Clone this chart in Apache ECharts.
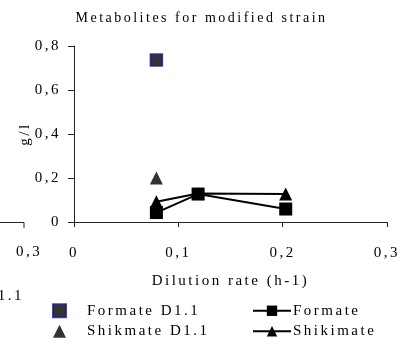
<!DOCTYPE html>
<html><head><meta charset="utf-8">
<script src="https://cdn.jsdelivr.net/npm/echarts@6/dist/echarts.min.js"></script>
<style>
html,body{margin:0;padding:0;background:#fff}
#chart{width:403px;height:354px}
</style></head><body><div id="chart"></div>
<script>
// Loosely tracked type, applied to every text drawn or measured on a canvas
(function () {
  const proto = CanvasRenderingContext2D.prototype;
  if (!('letterSpacing' in proto)) return;
  const TRACK = '2.5px';
  const fill = proto.fillText, measure = proto.measureText, stroke = proto.strokeText;
  proto.fillText = function () { this.letterSpacing = TRACK; return fill.apply(this, arguments); };
  proto.strokeText = function () { this.letterSpacing = TRACK; return stroke.apply(this, arguments); };
  proto.measureText = function () { this.letterSpacing = TRACK; return measure.apply(this, arguments); };
})();

// Axis ranges
const xMin = 0, xMax = 0.3, xStep = 0.1;
const yMin = 0, yMax = 0.8, yStep = 0.2;

// Dilution rates (h-1) of the continuous cultures
const dilution = [0.079, 0.119, 0.203];
// Metabolite concentrations (g/l)
const formate = [0.043, 0.127, 0.059];
const shikimate = [0.092, 0.130, 0.127];
// Single D1.1 measurements
const d11Rate = [0.079];
const formateD11 = [0.736];
const shikmateD11 = [0.200];

const pairs = (xs, ys) => xs.map((x, i) => [x, ys[i]]);
const comma = v => String(+v.toFixed(2)).replace('.', ',');
const FONT = 'Liberation Serif';
const INK = '#000';

const chart = echarts.init(document.getElementById('chart'));
chart.setOption({
  animation: false,
  backgroundColor: '#fff',
  textStyle: { fontFamily: FONT, color: INK },
  title: {
    text: 'Metabolites for modified strain',
    left: 'center', top: 5,
    textStyle: { fontFamily: FONT, fontSize: 14, fontWeight: 'normal', color: INK }
  },
  grid: { left: 74, right: 13, top: 46, bottom: 132 },
  xAxis: {
    type: 'value', min: xMin, max: xMax, interval: xStep,
    name: 'Dilution rate (h-1)', nameLocation: 'middle', nameGap: 50, nameMoveOverlap: false,
    nameTextStyle: { fontFamily: FONT, fontSize: 15, color: INK },
    axisLine: { lineStyle: { color: '#222', width: 1 } },
    axisTick: { show: true, length: 5, lineStyle: { color: '#222' } },
    axisLabel: { formatter: comma, margin: 22, fontFamily: FONT, fontSize: 15, color: INK },
    splitLine: { show: false }
  },
  yAxis: {
    type: 'value', min: yMin, max: yMax, interval: yStep,
    name: 'g/l', nameLocation: 'middle', nameGap: 40, nameRotate: 90, nameMoveOverlap: false,
    nameTextStyle: { fontFamily: FONT, fontSize: 15, color: INK },
    axisLine: { show: true, lineStyle: { color: '#222', width: 1 } },
    axisTick: { show: true, length: 6, lineStyle: { color: '#222' } },
    axisLabel: { formatter: comma, margin: 13, fontFamily: FONT, fontSize: 15, color: INK },
    splitLine: { show: false }
  },
  legend: [
    {
      orient: 'vertical', left: 47, top: 297, itemGap: 3,
      itemWidth: 13, itemHeight: 13,
      textStyle: { fontFamily: FONT, fontSize: 15, color: INK, padding: [0, 0, 0, 16] },
      data: ['Formate D1.1', 'Shikmate D1.1']
    },
    {
      orient: 'vertical', left: 247, top: 297, itemGap: 3,
      itemWidth: 38, itemHeight: 13,
      textStyle: { fontFamily: FONT, fontSize: 15, color: INK, padding: [0, 0, 0, -3] },
      data: ['Formate', 'Shikimate']
    }
  ],
  series: [
    {
      name: 'Formate', type: 'line', data: pairs(dilution, formate),
      symbol: 'rect', symbolSize: 13,
      lineStyle: { color: INK, width: 2 }, itemStyle: { color: INK }, z: 3
    },
    {
      name: 'Shikimate', type: 'line', data: pairs(dilution, shikimate),
      symbol: 'triangle', symbolSize: 13,
      lineStyle: { color: INK, width: 2 }, itemStyle: { color: INK }, z: 3
    },
    {
      name: 'Formate D1.1', type: 'scatter', data: pairs(d11Rate, formateD11),
      symbol: 'rect', symbolSize: 12,
      itemStyle: { color: INK, borderColor: '#1a1a8c', borderWidth: 1.5 }, z: 4
    },
    {
      name: 'Shikmate D1.1', type: 'scatter', data: pairs(d11Rate, shikmateD11),
      symbol: 'triangle', symbolSize: 13,
      itemStyle: { color: INK }, z: 4
    }
  ],
  // Edge of the neighbouring panel's axes
  graphic: [
    { type: 'line', shape: { x1: 0, y1: 222.5, x2: 24, y2: 222.5 }, style: { stroke: '#222', lineWidth: 1 } },
    { type: 'line', shape: { x1: 24, y1: 222.5, x2: 24, y2: 228 }, style: { stroke: '#222', lineWidth: 1 } },
    { type: 'text', x: 29, y: 252, style: { text: '0,3', fontFamily: FONT, fontSize: 15, fill: INK, align: 'center', verticalAlign: 'middle' } },
    { type: 'text', x: 24, y: 296, style: { text: 'D1.1', fontFamily: FONT, fontSize: 15, fill: INK, align: 'right', verticalAlign: 'middle' } }
  ]
});
</script></body></html>
